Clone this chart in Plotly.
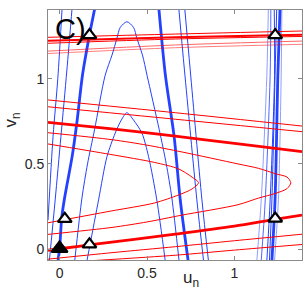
import plotly.graph_objects as go

# ---------------- data ----------------
# Blue curves (u, v)
b1_thick_u = [-0.009, 0.0, 0.012, 0.027, 0.073, 0.10, 0.131, 0.17, 0.205]
b1_thick_v = [-0.066, 0.0, 0.18, 0.29, 0.55, 0.75, 1.02, 1.25, 1.43]
b2_thick_u = [0.735, 0.69, 0.655, 0.605, 0.566]
b2_thick_v = [-0.066, 0.29, 0.66, 1.02, 1.43]
b3_thick_u = [1.214, 1.232, 1.248, 1.261]
b3_thick_v = [-0.066, 0.289, 1.02, 1.43]

cluster_v = [-0.066, 0.289, 1.02, 1.43]
blue_c1_u = [1.128, 1.153, 1.185, 1.194]
blue_c2_u = [1.153, 1.176, 1.204, 1.208]
blue_c3_u = [1.185, 1.204, 1.229, 1.227]
blue_c4_u = [1.200, 1.214, 1.232, 1.242]
blue_c6_u = [1.229, 1.251, 1.267, 1.271]

blue_outer_u = [0.087, 0.128, 0.16, 0.20, 0.261, 0.30, 0.328, 0.347, 0.385, 0.423, 0.442, 0.474, 0.50, 0.57, 0.61, 0.642, 0.683]
blue_outer_v = [-0.066, 0.30, 0.50, 0.70, 1.02, 1.138, 1.236, 1.30, 1.333, 1.30, 1.236, 1.138, 1.02, 0.70, 0.50, 0.30, -0.066]
blue_inner_u = [0.157, 0.223, 0.271, 0.318, 0.353, 0.385, 0.423, 0.471, 0.509, 0.556, 0.604]
blue_inner_v = [-0.066, 0.289, 0.542, 0.68, 0.757, 0.80, 0.757, 0.68, 0.542, 0.289, -0.066]

blue_ta_u = [0.68, 0.714, 0.785, 0.823]
blue_tb_u = [0.714, 0.747, 0.814, 0.851]
blue_t_v = [1.43, 1.05, 0.289, -0.066]
blue_t0_u = [-0.066, -0.037, -0.01, 0.015]
blue_t0_v = [0.17, 0.662, 1.0, 1.42]
blue_t0b_u = [-0.058, -0.025, 0.008, 0.042, 0.073]
blue_t0b_v = [-0.066, 0.289, 0.662, 1.05, 1.43]

# Red curves (u, v)
r1_thick_u = [-0.066, 0.0, 0.17, 0.662, 1.0, 1.23, 1.386]
r1_thick_v = [-0.006, 0.003, 0.025, 0.088, 0.135, 0.175, 0.20]
r2_thick_u = [-0.066, 0.30, 0.662, 1.0, 1.386]
r2_thick_v = [0.744, 0.705, 0.663, 0.62, 0.572]

edge_u = [-0.066, 0.662, 1.386]
red_a_v = [0.875, 0.80, 0.722]
red_b_v = [0.835, 0.762, 0.689]
red_c1_v = [1.147, 1.181, 1.201]
red_c2_v = [1.161, 1.197, 1.22]
red_c3_v = [1.207, 1.232, 1.247]
red_c4_thick_v = [1.222, 1.243, 1.257]
red_c5_v = [1.242, 1.261, 1.279]

red_outer_u = [-0.066, 0.30, 0.50, 0.70, 1.02, 1.138, 1.236, 1.30, 1.322, 1.30, 1.236, 1.138, 1.02, 0.70, 0.50, 0.30, -0.066]
red_outer_v = [0.683, 0.642, 0.61, 0.57, 0.50, 0.474, 0.442, 0.423, 0.39, 0.355, 0.328, 0.30, 0.261, 0.20, 0.16, 0.128, 0.087]
red_inner_u = [-0.066, 0.289, 0.542, 0.68, 0.757, 0.794, 0.757, 0.68, 0.542, 0.289, -0.066]
red_inner_v = [0.617, 0.556, 0.509, 0.471, 0.423, 0.39, 0.353, 0.318, 0.271, 0.223, 0.155]

red_ta_u = [-0.066, 0.30, 0.662, 1.0, 1.386]
red_ta_v = [-0.058, -0.02, 0.015, 0.05, 0.088]
red_tb_u = [0.20, 0.662, 1.0, 1.386]
red_tb_v = [-0.066, -0.035, -0.005, 0.028]

# Points (triangles)
open_pts_u = [0.03, 0.171, 0.171, 1.233, 1.233]
open_pts_v = [0.178, 0.029, 1.255, 1.255, 0.18]
filled_pts_u = [0.0]
filled_pts_v = [0.005]

xticks = [0, 0.5, 1]
xtick_labels = ["0", "0.5", "1"]
yticks = [0, 0.5, 1]
ytick_labels = ["0", "0.5", "1"]

BLUE = "rgb(35,65,255)"
RED = "rgb(255,0,0)"

fig = go.Figure()

def add(u, v, color, width, opacity=1.0):
    fig.add_trace(go.Scatter(x=u, y=v, mode="lines",
                             line=dict(color=color, width=width, shape="spline", smoothing=0.8),
                             opacity=opacity, hoverinfo="skip", showlegend=False))

# blue thin
for u, v, op in [(blue_outer_u, blue_outer_v, 1), (blue_inner_u, blue_inner_v, 1),
                 (blue_ta_u, blue_t_v, 1), (blue_tb_u, blue_t_v, 1),
                 (blue_t0_u, blue_t0_v, 1), (blue_t0b_u, blue_t0b_v, 1),
                 (blue_c1_u, cluster_v, 0.5), (blue_c2_u, cluster_v, 0.8),
                 (blue_c3_u, cluster_v, 1), (blue_c4_u, cluster_v, 1),
                 (blue_c6_u, cluster_v, 0.5)]:
    add(u, v, BLUE, 1, op)
# blue thick
for u, v in [(b1_thick_u, b1_thick_v), (b2_thick_u, b2_thick_v), (b3_thick_u, b3_thick_v)]:
    add(u, v, BLUE, 2.8)

# red thin
for u, v, op in [(red_outer_u, red_outer_v, 1), (red_inner_u, red_inner_v, 1),
                 (edge_u, red_a_v, 1), (edge_u, red_b_v, 1),
                 (red_ta_u, red_ta_v, 1), (red_tb_u, red_tb_v, 1),
                 (edge_u, red_c1_v, 0.5), (edge_u, red_c2_v, 0.6),
                 (edge_u, red_c3_v, 1), (edge_u, red_c5_v, 1)]:
    add(u, v, RED, 1, op)
# red thick
for u, v in [(r1_thick_u, r1_thick_v), (r2_thick_u, r2_thick_v)]:
    add(u, v, RED, 2.8)
add(edge_u, red_c4_thick_v, RED, 2.0)

fig.add_trace(go.Scatter(x=open_pts_u, y=open_pts_v, mode="markers",
                         marker=dict(symbol="triangle-up", size=12, color="white",
                                     line=dict(color="black", width=2.2)),
                         hoverinfo="skip", showlegend=False, cliponaxis=False))
fig.add_trace(go.Scatter(x=filled_pts_u, y=filled_pts_v, mode="markers",
                         marker=dict(symbol="triangle-up", size=14, color="black",
                                     line=dict(color="black", width=2)),
                         hoverinfo="skip", showlegend=False, cliponaxis=False))

axis_common = dict(showgrid=False, zeroline=False, showline=True, linecolor="#8a8a8a",
                   linewidth=1, mirror="ticks", ticks="inside", ticklen=4,
                   tickcolor="#8a8a8a", tickfont=dict(family="Liberation Sans", size=14, color="#262626"))

fig.update_layout(
    width=305, height=294,
    margin=dict(l=48, r=3, t=10, b=34),
    paper_bgcolor="white", plot_bgcolor="white",
    xaxis=dict(range=[-0.066, 1.386], tickvals=xticks, ticktext=xtick_labels, **axis_common),
    yaxis=dict(range=[-0.063, 1.402], tickvals=yticks, ticktext=ytick_labels, **axis_common),
    annotations=[
        dict(text="C)", xref="paper", yref="paper", x=0.02, y=0.995, xanchor="left", yanchor="top",
             showarrow=False, font=dict(family="Liberation Sans", size=29, color="black")),
        dict(text="u<sub>n</sub>", xref="paper", yref="paper", x=0.563, y=-0.075,
             xanchor="center", yanchor="middle", showarrow=False,
             font=dict(family="Liberation Sans", size=17, color="#262626")),
        dict(text="v<sub>n</sub>", xref="paper", yref="paper", x=-0.14, y=0.56,
             xanchor="center", yanchor="middle", textangle=-90, showarrow=False,
             font=dict(family="Liberation Sans", size=17, color="#262626")),
    ],
)

fig.write_html("out.html", config={"displayModeBar": False},
               post_script="document.body.style.margin='0';document.body.style.overflow='hidden';")
